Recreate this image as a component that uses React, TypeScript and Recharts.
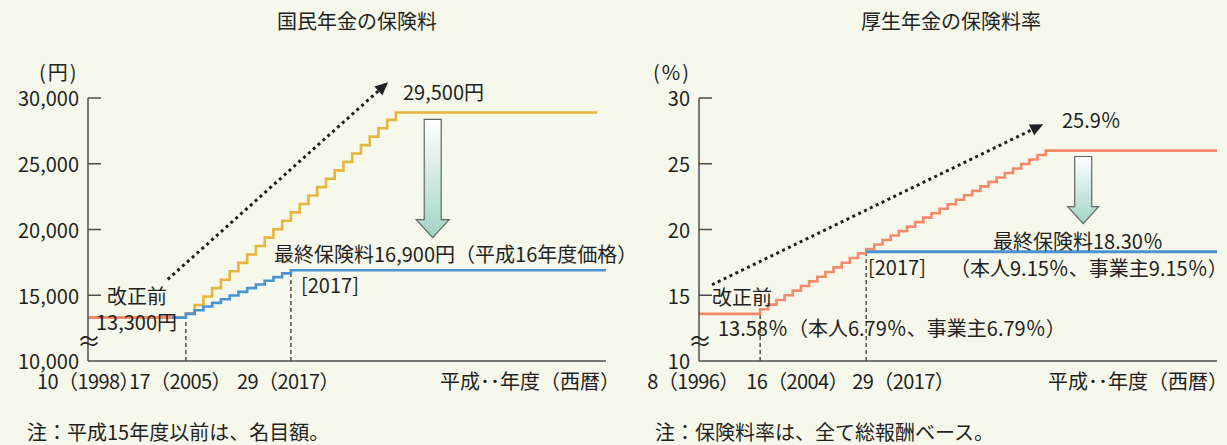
import React from "react";
import { Line, LineChart, ReferenceLine, XAxis, YAxis } from "recharts";

const FONT = "'Noto Sans CJK JP', 'Noto Sans', sans-serif";
const BG = "#f7f8ec";
const INK = "#231f20";
const AXIS = "#4d4d4d";
const ORANGE = "#f3896b";
const YELLOW = "#e6b53c";
const BLUE = "#4a92d2";

// 国民年金の保険料（円）
const npBeforeYears = [1998, 2004];
const npBefore = [13300, 13300];
const npNewYears = [2004, 2005, 2006, 2007, 2008, 2009, 2010, 2011, 2012, 2013, 2014, 2015, 2016, 2017, 2053];
const npNew = [13300, 13580, 13860, 14140, 14420, 14700, 14980, 15260, 15540, 15820, 16100, 16380, 16660, 16900, 16900];
const npOldYears = [
  2004, 2005, 2006, 2007, 2008, 2009, 2010, 2011, 2012, 2013, 2014, 2015, 2016, 2017,
  2018, 2019, 2020, 2021, 2022, 2023, 2024, 2025, 2026, 2027, 2028, 2029, 2052,
];
const npOld = [
  13300, 13620, 14260, 14900, 15540, 16180, 16820, 17460, 18100, 18740, 19380, 20020, 20660, 21300,
  21940, 22580, 23220, 23860, 24500, 25140, 25780, 26420, 27060, 27700, 28340, 28900, 28900,
];
const npYTicks = [10000, 13300, 15000, 20000, 25000, 30000];
const npYMarks = [15000, 20000, 25000, 30000];
const npXTicks = [1998, 2005, 2017];
const npXLabels = ["10（1998）", "17（2005）", "29（2017）"];

// 厚生年金の保険料率（%）
const kpOldYears = [
  1996, 2004, 2005, 2006, 2007, 2008, 2009, 2010, 2011, 2012, 2013, 2014, 2015, 2016, 2017,
  2018, 2019, 2020, 2021, 2022, 2023, 2024, 2025, 2026, 2027, 2028, 2029, 2030, 2031, 2032,
  2033, 2034, 2035, 2036, 2037, 2038, 2039, 2060,
];
const kpOld = [
  13.58, 13.934, 14.288, 14.642, 14.996, 15.35, 15.704, 16.058, 16.412, 16.766, 17.12, 17.474, 17.828, 18.182, 18.52,
  18.86, 19.2, 19.54, 19.88, 20.22, 20.56, 20.9, 21.24, 21.58, 21.92, 22.26, 22.6, 22.94, 23.28, 23.62,
  23.96, 24.3, 24.64, 24.98, 25.32, 25.66, 26.0, 26.0,
];
const kpNewYears = [2017, 2060];
const kpNew = [18.3, 18.3];
const kpYTicks = [10, 15, 20, 25, 30];
const kpYMarks = [15, 20, 25, 30];
const kpXTicks = [1996, 2004, 2017];
const kpXLabels = ["8（1996）", "16（2004）", "29（2017）"];

// the year axis is drawn compressed before the reform
const npXBreaks = [1998, 2005, 2053];
const npXFrac = [0, 0.189, 1];
const kpXBreaks = [1996, 2004, 2060];
const kpXFrac = [0, 0.118, 1];
const npXShift = [0, -6, -3];
const kpXShift = [-6, 37, 37];

const rows = (xs: number[], ys: number[]) => xs.map((year, i) => ({ year, v: ys[i] }));

function makeBrokenScale(stops: number[], fracs: number[]) {
  let dom = [stops[0], stops[stops.length - 1]];
  let rng = [0, 1];
  const scale: any = (v: number) => {
    let i = 0;
    while (i < stops.length - 2 && v > stops[i + 1]) i++;
    const t = (v - stops[i]) / (stops[i + 1] - stops[i]);
    const f = fracs[i] + t * (fracs[i + 1] - fracs[i]);
    return rng[0] + f * (rng[1] - rng[0]);
  };
  scale.domain = (d?: number[]) => {
    if (!d) return dom.slice();
    dom = d.slice();
    return scale;
  };
  scale.range = (r?: number[]) => {
    if (!r) return rng.slice();
    rng = r.slice();
    return scale;
  };
  scale.copy = () => makeBrokenScale(stops, fracs).domain(dom).range(rng);
  scale.ticks = () => stops.slice();
  scale.tickFormat = () => (v: number) => String(v);
  scale.invert = (px: number) => {
    const f = (px - rng[0]) / (rng[1] - rng[0]);
    let i = 0;
    while (i < fracs.length - 2 && f > fracs[i + 1]) i++;
    const t = (f - fracs[i]) / (fracs[i + 1] - fracs[i]);
    return stops[i] + t * (stops[i + 1] - stops[i]);
  };
  return scale;
}

function YTick(props: any) {
  const { x, y, payload, marks, fmt } = props;
  const v = payload.value;
  return (
    <g>
      <text x={x} y={y} dy="0.42em" textAnchor="end" fill={INK} fontSize={20} fontFamily={FONT}>
        {fmt(v)}
      </text>
      {marks.includes(v) ? <line x1={x + 9} x2={x + 22} y1={y} y2={y} stroke={AXIS} strokeWidth={1.5} /> : null}
    </g>
  );
}

function XTick(props: any) {
  const { x, y, payload, ticks, labels, shifts } = props;
  const i = ticks.indexOf(payload.value);
  return (
    <text
      x={x + shifts[i]}
      y={y}
      dy="0.71em"
      textAnchor="middle"
      fill={INK}
      fontSize={20}
      letterSpacing={-0.6}
      fontFamily={FONT}
    >
      {labels[i]}
    </text>
  );
}

function DottedArrow(p: any) {
  const { x1, y1, x2, y2 } = p;
  const dx = x2 - x1;
  const dy = y2 - y1;
  const len = Math.hypot(dx, dy);
  const ux = dx / len;
  const uy = dy / len;
  const head = 13;
  const half = 6;
  const bx = x2 - ux * head;
  const by = y2 - uy * head;
  return (
    <g>
      <line x1={x1} y1={y1} x2={bx} y2={by} stroke={INK} strokeWidth={3} strokeDasharray="3 3.5" />
      <polygon
        points={`${x2},${y2} ${bx - uy * half},${by + ux * half} ${bx + uy * half},${by - ux * half}`}
        fill={INK}
      />
    </g>
  );
}

function BigArrow(p: any) {
  const { x1, y1, y2, id, shaft, head, headLen } = p;
  const base = y2 - headLen;
  const pts = [
    [x1 - shaft, y1],
    [x1 + shaft, y1],
    [x1 + shaft, base],
    [x1 + head, base],
    [x1, y2],
    [x1 - head, base],
    [x1 - shaft, base],
  ]
    .map((q) => q.join(","))
    .join(" ");
  return (
    <g>
      <defs>
        <linearGradient id={id} x1="0" y1="0" x2="0" y2="1">
          <stop offset="0" stopColor="#ffffff" />
          <stop offset="1" stopColor="#a3d3c6" />
        </linearGradient>
      </defs>
      <polygon points={pts} fill={`url(#${id})`} stroke="#5d6664" strokeWidth={1.2} />
    </g>
  );
}

function Txt({ x, y, children, center }: { x: number; y: number; children: React.ReactNode; center?: boolean }) {
  return (
    <div
      style={{
        position: "absolute",
        left: x,
        top: y - 11.5,
        fontSize: 20,
        lineHeight: "20px",
        whiteSpace: "nowrap",
        transform: center ? "translateX(-50%)" : undefined,
      }}
    >
      {children}
    </div>
  );
}

const npScale = makeBrokenScale(npXBreaks, npXFrac);
const kpScale = makeBrokenScale(kpXBreaks, kpXFrac);

function NationalChart() {
  return (
    <LineChart width={620} height={445} margin={{ top: 98, right: 14, bottom: 44, left: 8 }}>
      <XAxis
        type="number"
        dataKey="year"
        domain={[1998, 2053]}
        scale={npScale}
        ticks={npXTicks}
        height={40}
        tickLine={false}
        tickSize={0}
        tickMargin={14}
        stroke={AXIS}
        strokeWidth={1.5}
        tick={(p: any) => <XTick {...p} ticks={npXTicks} labels={npXLabels} shifts={npXShift} />}
      />
      <YAxis
        type="number"
        domain={[10000, 30000]}
        ticks={npYTicks}
        width={80}
        tickLine={false}
        tickSize={0}
        tickMargin={9}
        stroke={AXIS}
        strokeWidth={1.5}
        tick={(p: any) => <YTick {...p} marks={npYMarks} fmt={(v: number) => v.toLocaleString("en-US")} />}
      />
      <ReferenceLine segment={[{ x: 2005, y: 10000 }, { x: 2005, y: 13300 }]} stroke="#333" strokeDasharray="4 3" strokeWidth={1.3} ifOverflow="visible" />
      <ReferenceLine segment={[{ x: 2017, y: 10000 }, { x: 2017, y: 16900 }]} stroke="#333" strokeDasharray="4 3" strokeWidth={1.3} ifOverflow="visible" />
      <ReferenceLine
        segment={[{ x: 2003.7, y: 16200 }, { x: 2028.1, y: 31200 }]}
        ifOverflow="visible"
        shape={(p: any) => <DottedArrow {...p} />}
      />
      <ReferenceLine
        segment={[{ x: 2033.2, y: 28370 }, { x: 2033.2, y: 19380 }]}
        ifOverflow="visible"
        shape={(p: any) => <BigArrow {...p} id="gradNp" shaft={8.5} head={16.5} headLen={18} />}
      />
      <Line data={rows(npBeforeYears, npBefore)} dataKey="v" type="linear" stroke={ORANGE} strokeWidth={3} dot={false} isAnimationActive={false} />
      <Line data={rows(npOldYears, npOld)} dataKey="v" type="stepAfter" stroke={YELLOW} strokeWidth={2.6} dot={false} isAnimationActive={false} />
      <Line data={rows(npNewYears, npNew)} dataKey="v" type="stepAfter" stroke={BLUE} strokeWidth={2.6} dot={false} isAnimationActive={false} />
    </LineChart>
  );
}

function EmployeeChart() {
  return (
    <LineChart width={607} height={445} margin={{ top: 98, right: 10, bottom: 44, left: 9 }}>
      <XAxis
        type="number"
        dataKey="year"
        domain={[1996, 2060]}
        scale={kpScale}
        ticks={kpXTicks}
        height={40}
        tickLine={false}
        tickSize={0}
        tickMargin={14}
        stroke={AXIS}
        strokeWidth={1.5}
        tick={(p: any) => <XTick {...p} ticks={kpXTicks} labels={kpXLabels} shifts={kpXShift} />}
      />
      <YAxis
        type="number"
        domain={[10, 30]}
        ticks={kpYTicks}
        width={70}
        tickLine={false}
        tickSize={0}
        tickMargin={9}
        stroke={AXIS}
        strokeWidth={1.5}
        tick={(p: any) => <YTick {...p} marks={kpYMarks} fmt={(v: number) => String(v)} />}
      />
      <ReferenceLine segment={[{ x: 2004, y: 10 }, { x: 2004, y: 13.58 }]} stroke="#333" strokeDasharray="4 3" strokeWidth={1.3} ifOverflow="visible" />
      <ReferenceLine segment={[{ x: 2017, y: 10 }, { x: 2017, y: 18.3 }]} stroke="#333" strokeDasharray="4 3" strokeWidth={1.3} ifOverflow="visible" />
      <ReferenceLine
        segment={[{ x: 1997.7, y: 15.8 }, { x: 2038.7, y: 28.0 }]}
        ifOverflow="visible"
        shape={(p: any) => <DottedArrow {...p} />}
      />
      <ReferenceLine
        segment={[{ x: 2043.6, y: 25.55 }, { x: 2043.6, y: 20.44 }]}
        ifOverflow="visible"
        shape={(p: any) => <BigArrow {...p} id="gradKp" shaft={8.5} head={15.5} headLen={17} />}
      />
      <Line data={rows(kpOldYears, kpOld)} dataKey="v" type="stepAfter" stroke={ORANGE} strokeWidth={2.6} dot={false} isAnimationActive={false} />
      <Line data={rows(kpNewYears, kpNew)} dataKey="v" type="linear" stroke={BLUE} strokeWidth={3} dot={false} isAnimationActive={false} />
    </LineChart>
  );
}

export default function App() {
  return (
    <div
      style={{
        position: "fixed",
        left: 0,
        top: 0,
        width: 1227,
        height: 445,
        overflow: "hidden",
        background: BG,
        fontFamily: FONT,
        color: INK,
      }}
    >
      <div style={{ position: "absolute", left: 0, top: 0 }}>
        <NationalChart />
      </div>
      <div style={{ position: "absolute", left: 620, top: 0 }}>
        <EmployeeChart />
      </div>

      <Txt x={357} y={22} center>国民年金の保険料</Txt>
      <Txt x={39} y={73}>
        <span style={{ letterSpacing: 2 }}>(円)</span>
      </Txt>
      <Txt x={107} y={297}>改正前</Txt>
      <Txt x={96} y={323}>13,300円</Txt>
      <Txt x={403} y={93}>29,500円</Txt>
      <Txt x={274} y={255}>最終保険料16,900円（平成16年度価格）</Txt>
      <Txt x={301} y={286}>[2017]</Txt>
      <Txt x={440} y={382}>平成･･年度（西暦）</Txt>
      <Txt x={27} y={433}>注：平成15年度以前は、名目額。</Txt>

      <Txt x={951} y={22} center>厚生年金の保険料率</Txt>
      <Txt x={653} y={73}>
        <span style={{ letterSpacing: 2 }}>(%)</span>
      </Txt>
      <Txt x={712} y={298}>改正前</Txt>
      <Txt x={718} y={329}>13.58％（本人6.79％、事業主6.79％）</Txt>
      <Txt x={868} y={268}>[2017]</Txt>
      <Txt x={1062} y={121}>25.9％</Txt>
      <Txt x={993} y={242}>最終保険料18.30％</Txt>
      <Txt x={950} y={269}>（本人9.15％、事業主9.15％）</Txt>
      <Txt x={1048} y={382}>平成･･年度（西暦）</Txt>
      <Txt x={655} y={433}>注：保険料率は、全て総報酬ベース。</Txt>

      <div style={{ position: "absolute", left: 77, top: 328, fontSize: 24, lineHeight: "24px" }}>≈</div>
      <div style={{ position: "absolute", left: 688, top: 328, fontSize: 24, lineHeight: "24px" }}>≈</div>
    </div>
  );
}
